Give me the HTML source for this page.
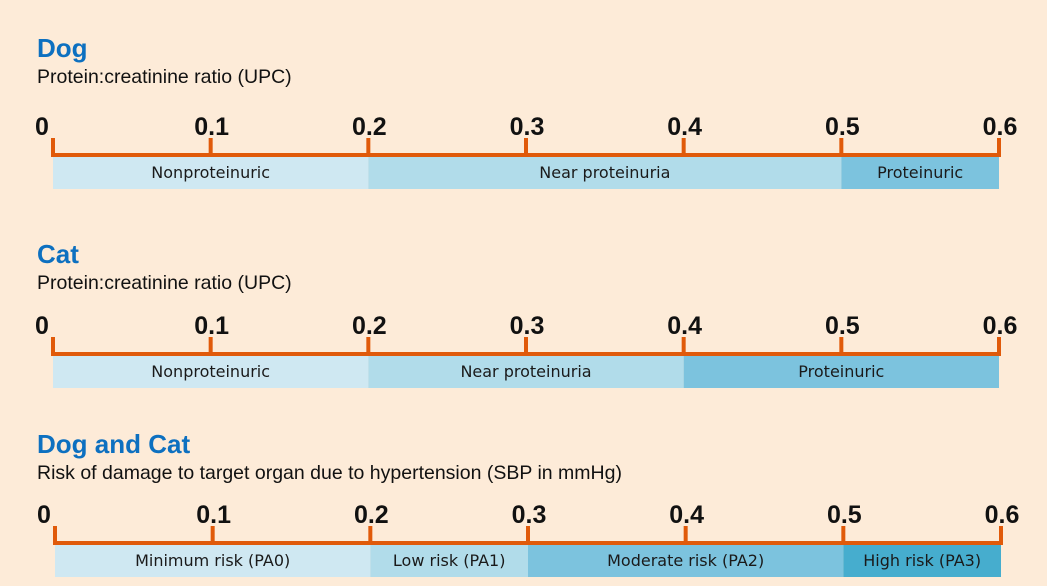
<!DOCTYPE html>
<html><head><meta charset="utf-8"><style>
body{margin:0;background:#fdebd8;}
svg{display:block;font-family:"Liberation Sans",sans-serif;}
.t{font-weight:bold;font-size:26px;fill:#0d70c0}
.s{font-size:19.5px;fill:#111}
.k{font-weight:bold;font-size:25px;fill:#111}
.b{font-size:16px;fill:#1a1a1a;font-family:"DejaVu Sans","Liberation Sans",sans-serif}
</style></head><body>
<svg id="c" width="1047" height="586">
<rect width="1047" height="586" fill="#fdebd8"/>
</svg>
<script>
const tickValues=[0,0.1,0.2,0.3,0.4,0.5,0.6];
const tickLabels=["0","0.1","0.2","0.3","0.4","0.5","0.6"];
const panelTitles=["Dog","Cat","Dog and Cat"];
const panelSubtitles=["Protein:creatinine ratio (UPC)","Protein:creatinine ratio (UPC)","Risk of damage to target organ due to hypertension (SBP in mmHg)"];
const dogBandStarts=[0,0.2,0.5];
const dogBandEnds=[0.2,0.5,0.6];
const dogBandLabels=["Nonproteinuric","Near proteinuria","Proteinuric"];
const catBandStarts=[0,0.2,0.4];
const catBandEnds=[0.2,0.4,0.6];
const catBandLabels=["Nonproteinuric","Near proteinuria","Proteinuric"];
const bpBandStarts=[0,0.2,0.3,0.5];
const bpBandEnds=[0.2,0.3,0.5,0.6];
const bpBandLabels=["Minimum risk (PA0)","Low risk (PA1)","Moderate risk (PA2)","High risk (PA3)"];
const NS="http://www.w3.org/2000/svg",svg=document.getElementById('c');
function mk(tag,at,txt){const e=document.createElementNS(NS,tag);for(const k in at)e.setAttribute(k,at[k]);if(txt!=null)e.textContent=txt;svg.appendChild(e);return e;}
const panels=[
 {y0:48,line:155,x0:53,x1:999,starts:dogBandStarts,ends:dogBandEnds,labels:dogBandLabels,colors:["#cfe8f2","#b1dcea","#7cc3de"]},
 {y0:254,line:354,x0:53,x1:999,starts:catBandStarts,ends:catBandEnds,labels:catBandLabels,colors:["#cfe8f2","#b1dcea","#7cc3de"]},
 {y0:444,line:543,x0:55,x1:1001,starts:bpBandStarts,ends:bpBandEnds,labels:bpBandLabels,colors:["#cfe8f2","#b1dcea","#7cc3de","#46adce"]}
];
panels.forEach((p,i)=>{
 const xs=v=>p.x0+(v-0)/(0.6-0)*(p.x1-p.x0);
 let e=mk('text',{x:37,y:p.y0+9,class:'t'},panelTitles[i]);
 
 
 e=mk('text',{x:37,y:p.y0+35,class:'s'},panelSubtitles[i]);
 
 
 p.starts.forEach((s,j)=>{
  const a=xs(s),b=xs(p.ends[j]);
  let r=mk('rect',{x:a,y:p.line+2,width:b-a,height:32,fill:p.colors[j]});
  
  
  let t=mk('text',{x:(a+b)/2,y:p.line+23,class:'b','text-anchor':'middle'},p.labels[j]);
  
  
 });
 let l=mk('rect',{x:p.x0-2,y:p.line-2,width:p.x1-p.x0+4,height:4,fill:'#e05a0a'});
 
 
 tickValues.forEach((v,j)=>{
  const x=xs(v);
  let r=mk('rect',{x:x-2,y:p.line-17,width:4,height:17,fill:'#e05a0a'});
  
  
  let t=mk('text',{x:j==0?x-11:x+1,y:p.line-20,class:'k','text-anchor':'middle'},tickLabels[j]);
  
  
 });
});
</script>
</body></html>
